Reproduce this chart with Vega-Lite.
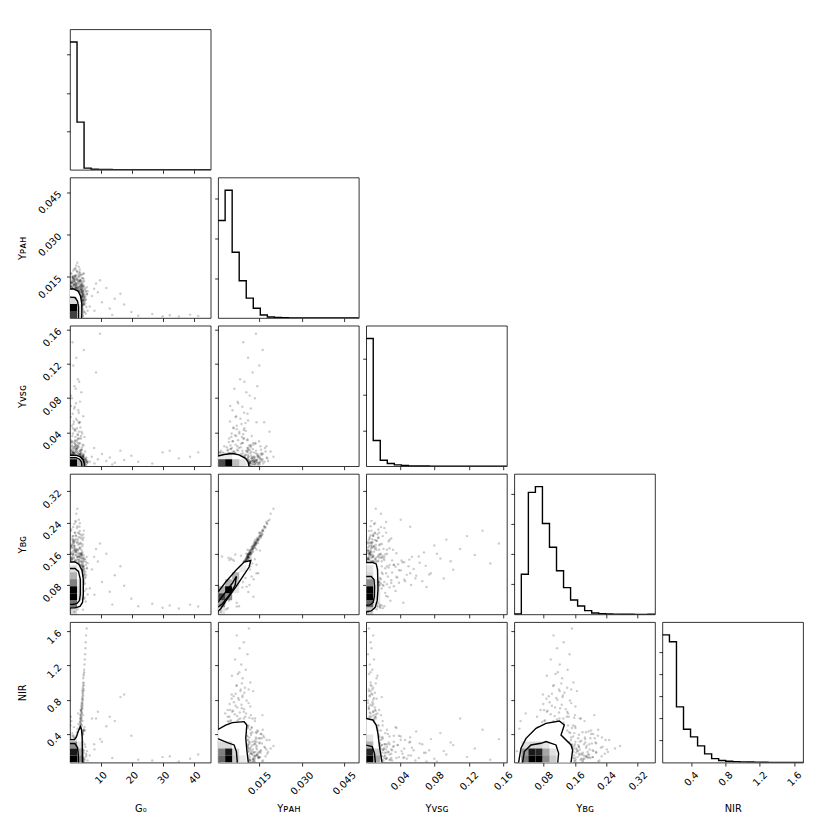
{
"$schema": "https://vega.github.io/schema/vega-lite/v6.json",
"padding": {"left": 17, "top": 28.3, "right": 5, "bottom": 5},
"background": "white",
"bounds": "flush",
"columns": 5,
"spacing": {"row": 7.2, "column": 7.1},
"resolve": {"scale": {"x": "independent", "y": "independent"}},
"config": {
  "font": "DejaVu Sans",
  "view": {"stroke": "#000", "strokeWidth": 0.8},
  "axis": {"grid": false, "domain": false, "tickColor": "#000", "tickWidth": 0.8, "tickSize": 3.5, "labelFontSize": 9.8, "labelColor": "#000", "labelAngle": -45, "labelAlign": "right", "labelBaseline": "middle", "labelPadding": 7, "labelFlush": false, "labelOverlap": false, "labelBound": false, "titleFontSize": 9.8, "titleFontWeight": "normal", "titleColor": "#000"},
  "axisX": {"titleY": 46, "titleBaseline": "middle", "titleAlign": "center"},
  "axisY": {"titleX": -47.5, "titleY": 70.25, "titleAngle": 270, "titleBaseline": "middle", "titleAlign": "center"}
},
"datasets": {
"H": [
{"h":"g","e":0.17,"c":3325},{"h":"g","e":2.42,"c":1242},{"h":"g","e":4.67,"c":44},{"h":"g","e":6.92,"c":13},{"h":"g","e":9.18,"c":8},{"h":"g","e":11.43,"c":6},{"h":"g","e":13.68,"c":4},{"h":"g","e":15.93,"c":5},{"h":"g","e":18.18,"c":3},{"h":"g","e":20.43,"c":2},{"h":"g","e":22.69,"c":1},{"h":"g","e":24.94,"c":1},{"h":"g","e":27.19,"c":1},{"h":"g","e":29.44,"c":2},{"h":"g","e":31.69,"c":2},{"h":"g","e":33.94,"c":1},{"h":"g","e":36.19,"c":1},{"h":"g","e":38.45,"c":1},{"h":"g","e":40.7,"c":2},{"h":"g","e":42.95,"c":1},{"h":"g","e":45.2,"c":1},
{"h":"p","e":0.0004,"c":1225},{"h":"p","e":0.00289,"c":1604},{"h":"p","e":0.00538,"c":825},{"h":"p","e":0.00787,"c":467},{"h":"p","e":0.01036,"c":249},{"h":"p","e":0.01285,"c":122},{"h":"p","e":0.01534,"c":38},{"h":"p","e":0.01783,"c":13},{"h":"p","e":0.02032,"c":6},{"h":"p","e":0.02281,"c":3},{"h":"p","e":0.0253,"c":2},{"h":"p","e":0.02779,"c":1},{"h":"p","e":0.03028,"c":1},{"h":"p","e":0.03277,"c":1},{"h":"p","e":0.03526,"c":0},{"h":"p","e":0.03775,"c":1},{"h":"p","e":0.04024,"c":0},{"h":"p","e":0.04273,"c":0},{"h":"p","e":0.04522,"c":1},{"h":"p","e":0.04771,"c":1},{"h":"p","e":0.0502,"c":1},
{"h":"v","e":0.0009,"c":3577},{"h":"v","e":0.00907,"c":720},{"h":"v","e":0.01724,"c":168},{"h":"v","e":0.02541,"c":76},{"h":"v","e":0.03358,"c":36},{"h":"v","e":0.04175,"c":20},{"h":"v","e":0.04992,"c":10},{"h":"v","e":0.05809,"c":6},{"h":"v","e":0.06626,"c":4},{"h":"v","e":0.07443,"c":3},{"h":"v","e":0.0826,"c":2},{"h":"v","e":0.09077,"c":2},{"h":"v","e":0.09894,"c":1},{"h":"v","e":0.10711,"c":1},{"h":"v","e":0.11528,"c":1},{"h":"v","e":0.12345,"c":1},{"h":"v","e":0.13162,"c":1},{"h":"v","e":0.13979,"c":0},{"h":"v","e":0.14796,"c":1},{"h":"v","e":0.15613,"c":1},{"h":"v","e":0.1643,"c":1},
{"h":"b","e":0.005,"c":3},{"h":"b","e":0.02295,"c":333},{"h":"b","e":0.0409,"c":1011},{"h":"b","e":0.05885,"c":1058},{"h":"b","e":0.0768,"c":753},{"h":"b","e":0.09475,"c":556},{"h":"b","e":0.1127,"c":361},{"h":"b","e":0.13065,"c":222},{"h":"b","e":0.1486,"c":119},{"h":"b","e":0.16655,"c":69},{"h":"b","e":0.1845,"c":31},{"h":"b","e":0.20245,"c":11},{"h":"b","e":0.2204,"c":6},{"h":"b","e":0.23835,"c":3},{"h":"b","e":0.2563,"c":2},{"h":"b","e":0.27425,"c":1},{"h":"b","e":0.2922,"c":1},{"h":"b","e":0.31015,"c":0},{"h":"b","e":0.3281,"c":0},{"h":"b","e":0.34605,"c":1},{"h":"b","e":0.364,"c":1},
{"h":"n","e":0.066,"c":1451},{"h":"n","e":0.148,"c":1372},{"h":"n","e":0.2299,"c":633},{"h":"n","e":0.3119,"c":378},{"h":"n","e":0.3938,"c":292},{"h":"n","e":0.4758,"c":190},{"h":"n","e":0.5577,"c":99},{"h":"n","e":0.6397,"c":45},{"h":"n","e":0.7216,"c":23},{"h":"n","e":0.8036,"c":15},{"h":"n","e":0.8855,"c":11},{"h":"n","e":0.9675,"c":8},{"h":"n","e":1.0494,"c":6},{"h":"n","e":1.1314,"c":5},{"h":"n","e":1.2133,"c":4},{"h":"n","e":1.2953,"c":3},{"h":"n","e":1.3772,"c":2},{"h":"n","e":1.4592,"c":1},{"h":"n","e":1.5411,"c":1},{"h":"n","e":1.6231,"c":1},{"h":"n","e":1.705,"c":1}
],
"S": [
{"g":1.2,"p":0.0112,"v":0.004,"b":0.158,"n":0.15},{"g":2.1,"p":0.0118,"v":0.007,"b":0.165,"n":0.22},{"g":0.8,"p":0.0105,"v":0.003,"b":0.148,"n":0.12},{"g":3.1,"p":0.0125,"v":0.011,"b":0.172,"n":0.31},{"g":1.7,"p":0.0131,"v":0.006,"b":0.18,"n":0.18},
{"g":2.6,"p":0.0109,"v":0.019,"b":0.151,"n":0.27},{"g":0.5,"p":0.0115,"v":0.002,"b":0.162,"n":0.1},{"g":3.6,"p":0.0138,"v":0.008,"b":0.188,"n":0.42},{"g":1.4,"p":0.0142,"v":0.013,"b":0.193,"n":0.16},{"g":2.3,"p":0.0121,"v":0.025,"b":0.17,"n":0.25},
{"g":3.9,"p":0.0147,"v":0.005,"b":0.199,"n":0.35},{"g":1.0,"p":0.0153,"v":0.009,"b":0.205,"n":0.13},{"g":2.8,"p":0.0159,"v":0.016,"b":0.214,"n":0.29},{"g":1.9,"p":0.0108,"v":0.031,"b":0.143,"n":0.21},{"g":3.3,"p":0.0164,"v":0.004,"b":0.218,"n":0.38},
{"g":0.9,"p":0.0127,"v":0.012,"b":0.176,"n":0.11},{"g":2.4,"p":0.017,"v":0.022,"b":0.226,"n":0.24},{"g":4.2,"p":0.0134,"v":0.007,"b":0.184,"n":0.55},{"g":1.5,"p":0.0178,"v":0.01,"b":0.236,"n":0.17},{"g":3.0,"p":0.0186,"v":0.041,"b":0.247,"n":0.33},
{"g":2.0,"p":0.0113,"v":0.003,"b":0.168,"n":0.2},{"g":0.6,"p":0.0119,"v":0.006,"b":0.15,"n":0.09},{"g":3.5,"p":0.0102,"v":0.014,"b":0.14,"n":0.44},{"g":1.3,"p":0.0145,"v":0.002,"b":0.187,"n":0.14},{"g":2.7,"p":0.0136,"v":0.028,"b":0.196,"n":0.28},
{"g":4.4,"p":0.0161,"v":0.009,"b":0.209,"n":0.62},{"g":1.1,"p":0.0104,"v":0.005,"b":0.16,"n":0.12},{"g":2.2,"p":0.019,"v":0.018,"b":0.262,"n":0.23},{"g":3.7,"p":0.0123,"v":0.036,"b":0.161,"n":0.47},{"g":1.8,"p":0.015,"v":0.011,"b":0.214,"n":0.19},
{"g":2.9,"p":0.0116,"v":0.004,"b":0.145,"n":0.3},{"g":0.4,"p":0.0129,"v":0.008,"b":0.179,"n":0.08},{"g":3.2,"p":0.0167,"v":0.052,"b":0.229,"n":0.36},{"g":1.6,"p":0.014,"v":0.006,"b":0.171,"n":0.15},{"g":2.5,"p":0.02,"v":0.012,"b":0.275,"n":0.26},
{"g":4.0,"p":0.0111,"v":0.02,"b":0.155,"n":0.5},{"g":1.2,"p":0.0132,"v":0.003,"b":0.19,"n":0.13},{"g":3.4,"p":0.0155,"v":0.015,"b":0.201,"n":0.4},{"g":2.0,"p":0.0175,"v":0.024,"b":0.241,"n":0.22},{"g":0.7,"p":0.0107,"v":0.01,"b":0.138,"n":0.1},
{"g":3.5,"p":0.0062,"v":0.004,"b":0.096,"n":0.48},{"g":3.7,"p":0.0081,"v":0.007,"b":0.118,"n":0.52},{"g":3.5,"p":0.0048,"v":0.003,"b":0.082,"n":0.55},{"g":3.8,"p":0.0095,"v":0.01,"b":0.13,"n":0.58},{"g":3.6,"p":0.0071,"v":0.005,"b":0.108,"n":0.61},
{"g":3.9,"p":0.0103,"v":0.006,"b":0.142,"n":0.64},{"g":3.7,"p":0.0057,"v":0.012,"b":0.09,"n":0.67},{"g":4.0,"p":0.0088,"v":0.004,"b":0.122,"n":0.7},{"g":3.8,"p":0.0066,"v":0.008,"b":0.101,"n":0.73},{"g":4.1,"p":0.0112,"v":0.003,"b":0.15,"n":0.76},
{"g":4.0,"p":0.0078,"v":0.009,"b":0.115,"n":0.8},{"g":4.2,"p":0.0059,"v":0.005,"b":0.093,"n":0.84},{"g":4.3,"p":0.0097,"v":0.011,"b":0.133,"n":0.88},{"g":4.2,"p":0.0084,"v":0.004,"b":0.119,"n":0.92},{"g":4.4,"p":0.0069,"v":0.007,"b":0.104,"n":0.96},
{"g":4.5,"p":0.0118,"v":0.006,"b":0.156,"n":1.0},{"g":4.4,"p":0.0091,"v":0.013,"b":0.127,"n":1.05},{"g":4.6,"p":0.0074,"v":0.004,"b":0.11,"n":1.1},{"g":4.7,"p":0.0102,"v":0.008,"b":0.141,"n":1.15},{"g":4.8,"p":0.0086,"v":0.005,"b":0.121,"n":1.21},
{"g":4.9,"p":0.0064,"v":0.01,"b":0.098,"n":1.27},{"g":5.0,"p":0.0108,"v":0.003,"b":0.146,"n":1.33},{"g":5.1,"p":0.008,"v":0.007,"b":0.114,"n":1.4},{"g":5.2,"p":0.0095,"v":0.006,"b":0.131,"n":1.47},{"g":5.3,"p":0.007,"v":0.009,"b":0.105,"n":1.55},
{"g":5.5,"p":0.0113,"v":0.004,"b":0.152,"n":1.63},{"g":5.6,"p":0.0089,"v":0.006,"b":0.124,"n":1.72},{"g":5.8,"p":0.0099,"v":0.005,"b":0.136,"n":1.8},{"g":3.3,"p":0.0052,"v":0.015,"b":0.086,"n":0.5},{"g":3.5,"p":0.012,"v":0.018,"b":0.16,"n":0.62},
{"g":3.9,"p":0.0045,"v":0.009,"b":0.079,"n":0.75},{"g":4.1,"p":0.0128,"v":0.006,"b":0.165,"n":0.9},{"g":4.5,"p":0.0053,"v":0.014,"b":0.088,"n":1.08},{"g":3.4,"p":0.0135,"v":0.003,"b":0.175,"n":0.58},{"g":3.6,"p":0.0038,"v":0.011,"b":0.072,"n":0.68},
{"g":1.1,"p":0.0061,"v":0.018,"b":0.095,"n":0.14},{"g":2.3,"p":0.0048,"v":0.021,"b":0.078,"n":0.22},{"g":0.6,"p":0.0072,"v":0.024,"b":0.11,"n":0.11},{"g":3.2,"p":0.0085,"v":0.027,"b":0.125,"n":0.3},{"g":1.7,"p":0.0055,"v":0.03,"b":0.085,"n":0.17},
{"g":2.8,"p":0.0093,"v":0.033,"b":0.132,"n":0.26},{"g":0.9,"p":0.0068,"v":0.036,"b":0.101,"n":0.12},{"g":4.1,"p":0.0079,"v":0.039,"b":0.118,"n":0.38},{"g":1.9,"p":0.0102,"v":0.042,"b":0.143,"n":0.2},{"g":3.5,"p":0.0058,"v":0.046,"b":0.09,"n":0.33},
{"g":1.3,"p":0.0087,"v":0.05,"b":0.128,"n":0.15},{"g":2.5,"p":0.011,"v":0.054,"b":0.152,"n":0.24},{"g":0.4,"p":0.0066,"v":0.058,"b":0.097,"n":0.09},{"g":3.0,"p":0.0096,"v":0.063,"b":0.137,"n":0.29},{"g":1.5,"p":0.012,"v":0.068,"b":0.163,"n":0.18},
{"g":2.1,"p":0.0075,"v":0.074,"b":0.107,"n":0.21},{"g":0.8,"p":0.0134,"v":0.08,"b":0.181,"n":0.11},{"g":3.8,"p":0.0104,"v":0.087,"b":0.148,"n":0.41},{"g":1.6,"p":0.0143,"v":0.094,"b":0.196,"n":0.16},{"g":2.7,"p":0.0082,"v":0.102,"b":0.119,"n":0.27},
{"g":8.5,"p":0.0126,"v":0.11,"b":0.172,"n":0.58},{"g":1.2,"p":0.015,"v":0.118,"b":0.205,"n":0.13},{"g":2.2,"p":0.011,"v":0.127,"b":0.157,"n":0.23},{"g":4.6,"p":0.0162,"v":0.136,"b":0.219,"n":0.45},{"g":1.0,"p":0.0093,"v":0.145,"b":0.135,"n":0.1},
{"g":9.8,"p":0.0138,"v":0.155,"b":0.186,"n":0.34},{"g":3.9,"p":0.0115,"v":0.02,"b":0.08,"n":0.36},{"g":1.4,"p":0.0035,"v":0.023,"b":0.06,"n":0.15},{"g":2.0,"p":0.0129,"v":0.026,"b":0.05,"n":0.19},{"g":0.7,"p":0.0042,"v":0.029,"b":0.04,"n":0.1},
{"g":2.6,"p":0.0108,"v":0.032,"b":0.17,"n":0.25},{"g":4.8,"p":0.0051,"v":0.035,"b":0.065,"n":0.48},{"g":1.8,"p":0.007,"v":0.044,"b":0.035,"n":0.12},{"g":3.3,"p":0.014,"v":0.052,"b":0.11,"n":0.31},{"g":0.5,"p":0.0047,"v":0.071,"b":0.075,"n":0.08},
{"g":6.5,"p":0.0045,"v":0.006,"b":0.072,"n":0.15},{"g":7.2,"p":0.0082,"v":0.012,"b":0.12,"n":0.58},{"g":8.0,"p":0.003,"v":0.004,"b":0.055,"n":0.22},{"g":9.1,"p":0.0095,"v":0.009,"b":0.14,"n":0.66},{"g":10.4,"p":0.006,"v":0.015,"b":0.088,"n":0.31},
{"g":11.8,"p":0.011,"v":0.007,"b":0.16,"n":0.49},{"g":12.9,"p":0.0038,"v":0.011,"b":0.063,"n":0.6},{"g":14.5,"p":0.0072,"v":0.005,"b":0.105,"n":0.55},{"g":16.3,"p":0.009,"v":0.019,"b":0.128,"n":0.83},{"g":17.5,"p":0.0052,"v":0.008,"b":0.078,"n":0.86},
{"g":19.8,"p":0.0025,"v":0.013,"b":0.045,"n":0.38},{"g":13.7,"p":0.0015,"v":0.003,"b":0.03,"n":0.12},{"g":22.0,"p":0.0012,"v":0.006,"b":0.026,"n":0.1},{"g":26.5,"p":0.0018,"v":0.004,"b":0.032,"n":0.09},{"g":29.8,"p":0.001,"v":0.017,"b":0.022,"n":0.13},
{"g":32.1,"p":0.0014,"v":0.019,"b":0.028,"n":0.14},{"g":35.0,"p":0.0009,"v":0.01,"b":0.02,"n":0.08},{"g":38.6,"p":0.0016,"v":0.012,"b":0.03,"n":0.11},{"g":41.2,"p":0.0011,"v":0.017,"b":0.025,"n":0.16},{"g":7.9,"p":0.0108,"v":0.022,"b":0.152,"n":0.28},
{"g":4.2,"p":0.0035,"v":0.004,"b":0.06,"n":0.12},{"g":4.5,"p":0.0052,"v":0.006,"b":0.082,"n":0.18},{"g":4.8,"p":0.0024,"v":0.003,"b":0.048,"n":0.1},{"g":5.1,"p":0.0068,"v":0.009,"b":0.1,"n":0.25},{"g":4.3,"p":0.0081,"v":0.005,"b":0.115,"n":0.31},
{"g":5.4,"p":0.0043,"v":0.011,"b":0.07,"n":0.15},{"g":4.6,"p":0.0059,"v":0.002,"b":0.092,"n":0.21},{"g":5.8,"p":0.003,"v":0.007,"b":0.056,"n":0.09},{"g":4.1,"p":0.0096,"v":0.012,"b":0.128,"n":0.34},{"g":4.9,"p":0.0076,"v":0.004,"b":0.108,"n":0.28},
{"g":5.2,"p":0.0019,"v":0.008,"b":0.038,"n":0.13},{"g":4.4,"p":0.0063,"v":0.013,"b":0.09,"n":0.4},{"g":4.0,"p":0.0047,"v":0.01,"b":0.068,"n":0.16},{"g":5.6,"p":0.0088,"v":0.006,"b":0.122,"n":0.2},{"g":4.7,"p":0.0027,"v":0.003,"b":0.045,"n":0.11},
{"g":3.9,"p":0.0105,"v":0.005,"b":0.076,"n":0.38},{"g":1.5,"p":0.0041,"v":0.016,"b":0.15,"n":0.36},{"g":2.4,"p":0.0055,"v":0.002,"b":0.145,"n":0.42},{"g":0.8,"p":0.007,"v":0.014,"b":0.025,"n":0.08},{"g":1.9,"p":0.0021,"v":0.017,"b":0.03,"n":0.29},
{"g":3.0,"p":0.0085,"v":0.015,"b":0.155,"n":0.12},{"g":2.6,"p":0.0033,"v":0.013,"b":0.018,"n":0.46},{"g":1.1,"p":0.0092,"v":0.016,"b":0.088,"n":0.38},{"g":3.4,"p":0.0117,"v":0.001,"b":0.12,"n":0.1},{"g":0.3,"p":0.006,"v":0.015,"b":0.142,"n":0.5},
{"g":2.2,"p":0.0125,"v":0.008,"b":0.135,"n":0.07},{"g":1.6,"p":0.0014,"v":0.003,"b":0.012,"n":0.2},{"g":2.9,"p":0.0101,"v":0.002,"b":0.098,"n":0.52},{"g":0.5,"p":0.0075,"v":0.019,"b":0.112,"n":0.27},{"g":3.6,"p":0.013,"v":0.006,"b":0.095,"n":0.15},
{"g":1.3,"p":0.0049,"v":0.021,"b":0.148,"n":0.09},{"g":2.0,"p":0.0111,"v":0.012,"b":0.062,"n":0.33},{"g":4.3,"p":0.0012,"v":0.005,"b":0.017,"n":0.07},{"g":0.9,"p":0.014,"v":0.004,"b":0.132,"n":0.41},{"g":2.7,"p":0.0026,"v":0.024,"b":0.052,"n":0.11},
{"g":3.8,"p":0.0065,"v":0.016,"b":0.158,"n":0.09},{"g":1.7,"p":0.0152,"v":0.003,"b":0.168,"n":0.35},{"g":0.6,"p":0.0038,"v":0.02,"b":0.021,"n":0.55},{"g":2.3,"p":0.0146,"v":0.013,"b":0.11,"n":0.18},{"g":5.0,"p":0.0056,"v":0.018,"b":0.084,"n":0.44},
{"g":3.1,"p":0.0018,"v":0.009,"b":0.153,"n":0.24},{"g":1.4,"p":0.0123,"v":0.001,"b":0.102,"n":0.48},{"g":2.5,"p":0.0078,"v":0.022,"b":0.026,"n":0.14},{"g":4.7,"p":0.0134,"v":0.011,"b":0.146,"n":0.08},{"g":0.4,"p":0.0044,"v":0.012,"b":0.144,"n":0.6},
{"g":3.3,"p":0.009,"v":0.028,"b":0.074,"n":0.37},{"g":1.0,"p":0.0108,"v":0.017,"b":0.158,"n":0.26},{"g":5.3,"p":0.0101,"v":0.002,"b":0.139,"n":0.17},{"g":2.8,"p":0.0029,"v":0.014,"b":0.034,"n":0.64},{"g":4.5,"p":0.0118,"v":0.025,"b":0.128,"n":0.45},
{"g":1.3,"p":0.0092,"v":0.006,"b":0.128,"n":0.16},{"g":2.5,"p":0.0098,"v":0.012,"b":0.139,"n":0.24},{"g":0.7,"p":0.0101,"v":0.004,"b":0.146,"n":0.11},{"g":3.4,"p":0.0106,"v":0.018,"b":0.15,"n":0.33},{"g":1.9,"p":0.011,"v":0.009,"b":0.156,"n":0.19},
{"g":2.8,"p":0.0114,"v":0.025,"b":0.16,"n":0.28},{"g":1.0,"p":0.0117,"v":0.005,"b":0.166,"n":0.13},{"g":3.8,"p":0.0121,"v":0.013,"b":0.17,"n":0.39},{"g":1.6,"p":0.0124,"v":0.007,"b":0.175,"n":0.17},{"g":2.2,"p":0.0127,"v":0.021,"b":0.172,"n":0.22},
{"g":0.5,"p":0.0131,"v":0.01,"b":0.18,"n":0.09},{"g":3.1,"p":0.0134,"v":0.004,"b":0.186,"n":0.3},{"g":1.4,"p":0.0137,"v":0.016,"b":0.182,"n":0.15},{"g":2.6,"p":0.0141,"v":0.008,"b":0.19,"n":0.26},{"g":4.3,"p":0.0145,"v":0.011,"b":0.195,"n":0.43},
{"g":0.9,"p":0.0149,"v":0.03,"b":0.199,"n":0.12},{"g":2.0,"p":0.0153,"v":0.006,"b":0.207,"n":0.2},{"g":3.5,"p":0.0158,"v":0.014,"b":0.21,"n":0.35},{"g":1.2,"p":0.0094,"v":0.009,"b":0.125,"n":0.14},{"g":2.9,"p":0.0099,"v":0.003,"b":0.135,"n":0.29},
{"g":1.7,"p":0.0103,"v":0.019,"b":0.141,"n":0.18},{"g":3.6,"p":0.0108,"v":0.007,"b":0.155,"n":0.37},{"g":0.6,"p":0.0112,"v":0.012,"b":0.149,"n":0.1},{"g":2.3,"p":0.0116,"v":0.005,"b":0.163,"n":0.23},{"g":4.0,"p":0.0119,"v":0.023,"b":0.158,"n":0.41},
{"g":1.5,"p":0.0123,"v":0.01,"b":0.178,"n":0.16},{"g":2.7,"p":0.0126,"v":0.003,"b":0.168,"n":0.27},{"g":0.8,"p":0.0129,"v":0.017,"b":0.184,"n":0.11},{"g":3.3,"p":0.0133,"v":0.008,"b":0.176,"n":0.32},{"g":1.8,"p":0.0136,"v":0.027,"b":0.192,"n":0.19},
{"g":2.4,"p":0.0139,"v":0.006,"b":0.188,"n":0.24},{"g":4.5,"p":0.0143,"v":0.015,"b":0.201,"n":0.44},{"g":1.1,"p":0.0147,"v":0.004,"b":0.196,"n":0.13},{"g":3.0,"p":0.0151,"v":0.011,"b":0.212,"n":0.3},{"g":2.1,"p":0.0156,"v":0.02,"b":0.205,"n":0.21},
{"g":0.4,"p":0.016,"v":0.007,"b":0.219,"n":0.08},{"g":3.7,"p":0.0096,"v":0.033,"b":0.131,"n":0.38},{"g":1.3,"p":0.01,"v":0.014,"b":0.12,"n":0.15},{"g":2.6,"p":0.0105,"v":0.009,"b":0.152,"n":0.26},{"g":0.9,"p":0.0109,"v":0.022,"b":0.144,"n":0.12},
{"g":3.2,"p":0.0113,"v":0.005,"b":0.161,"n":0.31},{"g":1.6,"p":0.0118,"v":0.016,"b":0.17,"n":0.17},{"g":2.0,"p":0.0122,"v":0.01,"b":0.165,"n":0.2},{"g":4.1,"p":0.0125,"v":0.004,"b":0.179,"n":0.42},{"g":0.7,"p":0.0128,"v":0.028,"b":0.174,"n":0.1},
{"g":2.8,"p":0.0132,"v":0.012,"b":0.183,"n":0.28},{"g":1.4,"p":0.0135,"v":0.006,"b":0.189,"n":0.14},{"g":3.5,"p":0.0138,"v":0.019,"b":0.185,"n":0.36},{"g":2.2,"p":0.0142,"v":0.008,"b":0.197,"n":0.22},{"g":1.0,"p":0.0146,"v":0.013,"b":0.193,"n":0.12},
{"g":2.9,"p":0.015,"v":0.005,"b":0.203,"n":0.29},{"g":1.7,"p":0.0154,"v":0.024,"b":0.214,"n":0.18},{"g":3.9,"p":0.0157,"v":0.009,"b":0.206,"n":0.4},{"g":0.6,"p":0.0163,"v":0.015,"b":0.222,"n":0.09},{"g":2.5,"p":0.0168,"v":0.006,"b":0.23,"n":0.25},
{"g":1.2,"p":0.0172,"v":0.018,"b":0.228,"n":0.14},{"g":3.3,"p":0.0176,"v":0.011,"b":0.238,"n":0.33},{"g":1.9,"p":0.0181,"v":0.007,"b":0.244,"n":0.19},{"g":2.6,"p":0.0093,"v":0.038,"b":0.133,"n":0.27},{"g":1.1,"p":0.0097,"v":0.045,"b":0.138,"n":0.13},
{"g":3.6,"p":0.0058,"v":0.005,"b":0.091,"n":0.46},{"g":3.4,"p":0.0085,"v":0.008,"b":0.124,"n":0.49},{"g":3.7,"p":0.0067,"v":0.003,"b":0.102,"n":0.51},{"g":3.5,"p":0.0092,"v":0.006,"b":0.131,"n":0.53},{"g":3.8,"p":0.0049,"v":0.01,"b":0.083,"n":0.56},
{"g":3.6,"p":0.0076,"v":0.004,"b":0.114,"n":0.57},{"g":3.9,"p":0.01,"v":0.007,"b":0.139,"n":0.6},{"g":3.7,"p":0.0063,"v":0.012,"b":0.098,"n":0.63},{"g":4.0,"p":0.0081,"v":0.005,"b":0.119,"n":0.65},{"g":3.8,"p":0.0054,"v":0.009,"b":0.088,"n":0.66},
{"g":4.1,"p":0.0096,"v":0.004,"b":0.136,"n":0.69},{"g":3.9,"p":0.0072,"v":0.011,"b":0.109,"n":0.71},{"g":4.2,"p":0.0087,"v":0.006,"b":0.126,"n":0.74},{"g":4.0,"p":0.006,"v":0.008,"b":0.095,"n":0.77},{"g":4.3,"p":0.0105,"v":0.003,"b":0.147,"n":0.79},
{"g":4.1,"p":0.0075,"v":0.01,"b":0.112,"n":0.82},{"g":4.4,"p":0.0091,"v":0.005,"b":0.129,"n":0.85},{"g":4.2,"p":0.0066,"v":0.007,"b":0.101,"n":0.87},{"g":4.5,"p":0.0083,"v":0.004,"b":0.121,"n":0.9},{"g":4.3,"p":0.0099,"v":0.009,"b":0.14,"n":0.94},
{"g":4.6,"p":0.007,"v":0.006,"b":0.106,"n":0.97},{"g":4.4,"p":0.0088,"v":0.012,"b":0.125,"n":0.99},{"g":3.3,"p":0.011,"v":0.014,"b":0.152,"n":0.47},{"g":3.4,"p":0.0042,"v":0.007,"b":0.076,"n":0.54},{"g":3.6,"p":0.0115,"v":0.005,"b":0.158,"n":0.59},
{"g":3.7,"p":0.0047,"v":0.016,"b":0.081,"n":0.68},{"g":4.1,"p":0.0118,"v":0.004,"b":0.161,"n":0.72},{"g":4.3,"p":0.0052,"v":0.013,"b":0.087,"n":0.81},{"g":4.6,"p":0.0112,"v":0.008,"b":0.15,"n":0.92},{"g":4.7,"p":0.0079,"v":0.006,"b":0.116,"n":1.12},
{"g":1.2,"p":0.0045,"v":0.016,"b":0.079,"n":0.13},{"g":2.6,"p":0.0062,"v":0.017,"b":0.098,"n":0.25},{"g":0.6,"p":0.0038,"v":0.019,"b":0.071,"n":0.1},{"g":3.5,"p":0.0071,"v":0.02,"b":0.108,"n":0.34},{"g":1.8,"p":0.0053,"v":0.022,"b":0.088,"n":0.18},
{"g":2.9,"p":0.0084,"v":0.023,"b":0.123,"n":0.28},{"g":0.9,"p":0.0048,"v":0.025,"b":0.082,"n":0.12},{"g":4.2,"p":0.0066,"v":0.026,"b":0.102,"n":0.4},{"g":1.5,"p":0.0091,"v":0.028,"b":0.131,"n":0.16},{"g":2.3,"p":0.0057,"v":0.03,"b":0.092,"n":0.22},
{"g":0.4,"p":0.0075,"v":0.031,"b":0.112,"n":0.09},{"g":3.2,"p":0.0043,"v":0.033,"b":0.077,"n":0.31},{"g":1.9,"p":0.0088,"v":0.035,"b":0.127,"n":0.19},{"g":2.7,"p":0.0064,"v":0.037,"b":0.099,"n":0.27},{"g":1.1,"p":0.0052,"v":0.039,"b":0.086,"n":0.13},
{"g":3.8,"p":0.0079,"v":0.041,"b":0.118,"n":0.37},{"g":1.6,"p":0.0095,"v":0.043,"b":0.138,"n":0.17},{"g":2.4,"p":0.0059,"v":0.045,"b":0.094,"n":0.23},{"g":0.8,"p":0.007,"v":0.048,"b":0.106,"n":0.11},{"g":3.0,"p":0.0101,"v":0.051,"b":0.145,"n":0.3},
{"g":1.4,"p":0.0046,"v":0.053,"b":0.08,"n":0.15},{"g":2.1,"p":0.0083,"v":0.056,"b":0.121,"n":0.21},{"g":4.4,"p":0.0068,"v":0.059,"b":0.104,"n":0.43},{"g":1.0,"p":0.0108,"v":0.062,"b":0.153,"n":0.12},{"g":2.8,"p":0.0055,"v":0.066,"b":0.09,"n":0.28},
{"g":1.7,"p":0.009,"v":0.07,"b":0.129,"n":0.18},{"g":3.4,"p":0.0073,"v":0.076,"b":0.11,"n":0.34},{"g":0.5,"p":0.0116,"v":0.083,"b":0.16,"n":0.08},{"g":2.0,"p":0.0062,"v":0.091,"b":0.097,"n":0.2},{"g":3.1,"p":0.0097,"v":0.099,"b":0.141,"n":0.3}
],
"F": [
{"pan":"gp","x":-0.15,"y":0.01067,"y2":0},{"pan":"gp","x":1.45,"y":0.01067,"y2":0},{"pan":"gp","x":2.73,"y":0.00996,"y2":0},{"pan":"gp","x":3.53,"y":0.00819,"y2":0},{"pan":"gp","x":3.95,"y":0.00536,"y2":0},{"pan":"gp","x":3.96,"y":0.00217,"y2":0},
{"pan":"gv","x":-0.15,"y":0.01367,"y2":-0.0003},{"pan":"gv","x":2.09,"y":0.01367,"y2":-0.0003},{"pan":"gv","x":3.37,"y":0.01193,"y2":-0.0003},{"pan":"gv","x":4.33,"y":0.00845,"y2":-0.0003},{"pan":"gv","x":4.71,"y":0.00438,"y2":-0.0003},{"pan":"gv","x":4.81,"y":0,"y2":-0.0003},
{"pan":"gb","x":-0.15,"y":0.139,"y2":0.0216},{"pan":"gb","x":1.77,"y":0.139,"y2":0.0216},{"pan":"gb","x":3.05,"y":0.1326,"y2":0.024},{"pan":"gb","x":3.37,"y":0.129,"y2":0.0254},{"pan":"gb","x":4.01,"y":0.1173,"y2":0.0325},{"pan":"gb","x":4.17,"y":0.11,"y2":0.0356},{"pan":"gb","x":4.43,"y":0.0943,"y2":0.056},
{"pan":"gn","x":-0.15,"y":0.334,"y2":0.05},{"pan":"gn","x":1.61,"y":0.334,"y2":0.05},{"pan":"gn","x":2.25,"y":0.369,"y2":0.05},{"pan":"gn","x":2.89,"y":0.439,"y2":0.05},{"pan":"gn","x":3.53,"y":0.485,"y2":0.05},{"pan":"gn","x":3.85,"y":0.45,"y2":0.05},{"pan":"gn","x":4.07,"y":0.357,"y2":0.05},{"pan":"gn","x":4.11,"y":0.183,"y2":0.05},{"pan":"gn","x":4.14,"y":0.06,"y2":0.05},
{"pan":"pv","x":0.00005,"y":0.0125,"y2":-0.0003},{"pan":"pv","x":0.00252,"y":0.0145,"y2":-0.0003},{"pan":"pv","x":0.00546,"y":0.0156,"y2":-0.0003},{"pan":"pv","x":0.00783,"y":0.014,"y2":-0.0003},{"pan":"pv","x":0.0102,"y":0.00984,"y2":-0.0003},{"pan":"pv","x":0.011,"y":0.0059,"y2":-0.0003},{"pan":"pv","x":0.01137,"y":0,"y2":-0.0003},
{"pan":"pb","x":-0.0001,"y":0.06,"y2":0.012},{"pan":"pb","x":0.0004,"y":0.0622,"y2":0.0137},{"pan":"pb","x":0.00132,"y":0.0709,"y2":0.0195},{"pan":"pb","x":0.00309,"y":0.0877,"y2":0.0386},{"pan":"pb","x":0.00369,"y":0.0927,"y2":0.0451},{"pan":"pb","x":0.00663,"y":0.1173,"y2":0.0749},{"pan":"pb","x":0.009,"y":0.1344,"y2":0.1004},{"pan":"pb","x":0.0096,"y":0.1387,"y2":0.1069},{"pan":"pb","x":0.01137,"y":0.1417,"y2":0.126},{"pan":"pb","x":0.01198,"y":0.1428,"y2":0.1428},
{"pan":"vb","x":-0.00026,"y":0.1377,"y2":0.0114},{"pan":"vb","x":0.00671,"y":0.1377,"y2":0.0139},{"pan":"vb","x":0.00787,"y":0.1377,"y2":0.0155},{"pan":"vb","x":0.01135,"y":0.1358,"y2":0.0229},{"pan":"vb","x":0.01251,"y":0.1339,"y2":0.03},{"pan":"vb","x":0.01367,"y":0.125,"y2":0.0407},{"pan":"vb","x":0.01402,"y":0.1198,"y2":0.05},{"pan":"vb","x":0.0146,"y":0.1,"y2":0.0688},
{"pan":"pn","x":0.00005,"y":0.446,"y2":0.05},{"pan":"pn","x":0.00309,"y":0.504,"y2":0.05},{"pan":"pn","x":0.00546,"y":0.532,"y2":0.05},{"pan":"pn","x":0.0096,"y":0.544,"y2":0.05},{"pan":"pn","x":0.0104,"y":0.504,"y2":0.05},{"pan":"pn","x":0.0106,"y":0.35,"y2":0.05},{"pan":"pn","x":0.0108,"y":0.213,"y2":0.05},{"pan":"pn","x":0.0112,"y":0.06,"y2":0.05},
{"pan":"vn","x":-0.00026,"y":0.582,"y2":0.05},{"pan":"vn","x":0.00868,"y":0.563,"y2":0.05},{"pan":"vn","x":0.01251,"y":0.504,"y2":0.05},{"pan":"vn","x":0.01448,"y":0.407,"y2":0.05},{"pan":"vn","x":0.01634,"y":0.252,"y2":0.05},{"pan":"vn","x":0.01948,"y":0.06,"y2":0.05},
{"pan":"bn","x":0.0155,"y":0.06,"y2":0.05},{"pan":"bn","x":0.0221,"y":0.233,"y2":0.05},{"pan":"bn","x":0.0349,"y":0.349,"y2":0.05},{"pan":"bn","x":0.0604,"y":0.466,"y2":0.05},{"pan":"bn","x":0.0859,"y":0.524,"y2":0.05},{"pan":"bn","x":0.1198,"y":0.552,"y2":0.05},{"pan":"bn","x":0.1326,"y":0.504,"y2":0.05},{"pan":"bn","x":0.136,"y":0.36,"y2":0.05},{"pan":"bn","x":0.1497,"y":0.272,"y2":0.05},{"pan":"bn","x":0.1538,"y":0.213,"y2":0.05},{"pan":"bn","x":0.154,"y":0.06,"y2":0.05}
],
"D": [
{"pan":"gp","x":0.17,"x2":2.42,"y":0.0004,"y2":0.00289,"d":0.75},{"pan":"gp","x":0.17,"x2":2.42,"y":0.00289,"y2":0.00538,"d":1},{"pan":"gp","x":0.17,"x2":2.42,"y":0.00538,"y2":0.00787,"d":0.15},{"pan":"gp","x":2.42,"x2":4.67,"y":0.0004,"y2":0.00289,"d":0.12},{"pan":"gp","x":2.42,"x2":4.67,"y":0.00289,"y2":0.00538,"d":0.1},
{"pan":"gv","x":0.17,"x2":2.42,"y":0.0009,"y2":0.00907,"d":1},{"pan":"gv","x":2.42,"x2":4.67,"y":0.0009,"y2":0.00907,"d":0.3},{"pan":"gv","x":0.17,"x2":2.42,"y":0.00907,"y2":0.01724,"d":0.1},
{"pan":"gb","x":0.17,"x2":2.42,"y":0.005,"y2":0.02295,"d":0.15},{"pan":"gb","x":0.17,"x2":2.42,"y":0.02295,"y2":0.0409,"d":0.55},{"pan":"gb","x":0.17,"x2":2.42,"y":0.0409,"y2":0.05885,"d":1},{"pan":"gb","x":0.17,"x2":2.42,"y":0.05885,"y2":0.0768,"d":1},{"pan":"gb","x":0.17,"x2":2.42,"y":0.0768,"y2":0.09475,"d":0.5},{"pan":"gb","x":0.17,"x2":2.42,"y":0.09475,"y2":0.1127,"d":0.3},{"pan":"gb","x":0.17,"x2":2.42,"y":0.1127,"y2":0.13065,"d":0.12},{"pan":"gb","x":2.42,"x2":4.67,"y":0.0409,"y2":0.05885,"d":0.12},{"pan":"gb","x":2.42,"x2":4.67,"y":0.05885,"y2":0.0768,"d":0.12},{"pan":"gb","x":2.42,"x2":4.67,"y":0.0768,"y2":0.09475,"d":0.08},
{"pan":"gn","x":0.17,"x2":2.42,"y":0.066,"y2":0.148,"d":1},{"pan":"gn","x":0.17,"x2":2.42,"y":0.148,"y2":0.2299,"d":0.9},{"pan":"gn","x":0.17,"x2":2.42,"y":0.2299,"y2":0.3119,"d":0.45},{"pan":"gn","x":0.17,"x2":2.42,"y":0.3119,"y2":0.3938,"d":0.12},{"pan":"gn","x":2.42,"x2":4.67,"y":0.066,"y2":0.148,"d":0.45},{"pan":"gn","x":2.42,"x2":4.67,"y":0.148,"y2":0.2299,"d":0.3},{"pan":"gn","x":2.42,"x2":4.67,"y":0.2299,"y2":0.3119,"d":0.1},
{"pan":"pv","x":0.0004,"x2":0.00289,"y":0.0009,"y2":0.00907,"d":0.7},{"pan":"pv","x":0.00289,"x2":0.00538,"y":0.0009,"y2":0.00907,"d":1},{"pan":"pv","x":0.00538,"x2":0.00787,"y":0.0009,"y2":0.00907,"d":0.25},{"pan":"pv","x":0.00787,"x2":0.01036,"y":0.0009,"y2":0.00907,"d":0.1},{"pan":"pv","x":0.0004,"x2":0.00289,"y":0.00907,"y2":0.01724,"d":0.08},{"pan":"pv","x":0.00289,"x2":0.00538,"y":0.00907,"y2":0.01724,"d":0.08},
{"pan":"pb","x":0.00289,"x2":0.00538,"y":0.05885,"y2":0.0768,"d":1},{"pan":"pb","x":0.0004,"x2":0.00289,"y":0.0409,"y2":0.05885,"d":0.75},{"pan":"pb","x":0.0004,"x2":0.00289,"y":0.02295,"y2":0.0409,"d":0.4},{"pan":"pb","x":0.00289,"x2":0.00538,"y":0.0409,"y2":0.05885,"d":0.45},{"pan":"pb","x":0.0004,"x2":0.00289,"y":0.05885,"y2":0.0768,"d":0.3},{"pan":"pb","x":0.00289,"x2":0.00538,"y":0.0768,"y2":0.09475,"d":0.3},{"pan":"pb","x":0.00538,"x2":0.00787,"y":0.0768,"y2":0.09475,"d":0.2},{"pan":"pb","x":0.00538,"x2":0.00787,"y":0.09475,"y2":0.1127,"d":0.3},{"pan":"pb","x":0.0004,"x2":0.00289,"y":0.005,"y2":0.02295,"d":0.1},{"pan":"pb","x":0.00538,"x2":0.00787,"y":0.05885,"y2":0.0768,"d":0.1},{"pan":"pb","x":0.00787,"x2":0.01036,"y":0.1127,"y2":0.13065,"d":0.08},
{"pan":"vb","x":0.0009,"x2":0.00907,"y":0.005,"y2":0.02295,"d":0.2},{"pan":"vb","x":0.0009,"x2":0.00907,"y":0.02295,"y2":0.0409,"d":0.6},{"pan":"vb","x":0.0009,"x2":0.00907,"y":0.0409,"y2":0.05885,"d":1},{"pan":"vb","x":0.0009,"x2":0.00907,"y":0.05885,"y2":0.0768,"d":1},{"pan":"vb","x":0.0009,"x2":0.00907,"y":0.0768,"y2":0.09475,"d":0.45},{"pan":"vb","x":0.0009,"x2":0.00907,"y":0.09475,"y2":0.1127,"d":0.15},{"pan":"vb","x":0.0009,"x2":0.00907,"y":0.1127,"y2":0.13065,"d":0.1},{"pan":"vb","x":0.00907,"x2":0.01724,"y":0.02295,"y2":0.0409,"d":0.1},{"pan":"vb","x":0.00907,"x2":0.01724,"y":0.0409,"y2":0.05885,"d":0.1},{"pan":"vb","x":0.00907,"x2":0.01724,"y":0.05885,"y2":0.0768,"d":0.1},{"pan":"vb","x":0.00907,"x2":0.01724,"y":0.0768,"y2":0.09475,"d":0.1},
{"pan":"pn","x":0.0004,"x2":0.00289,"y":0.066,"y2":0.148,"d":0.6},{"pan":"pn","x":0.0004,"x2":0.00289,"y":0.148,"y2":0.2299,"d":0.5},{"pan":"pn","x":0.00289,"x2":0.00538,"y":0.066,"y2":0.148,"d":1},{"pan":"pn","x":0.00289,"x2":0.00538,"y":0.148,"y2":0.2299,"d":0.9},{"pan":"pn","x":0.00538,"x2":0.00787,"y":0.066,"y2":0.148,"d":0.2},{"pan":"pn","x":0.00538,"x2":0.00787,"y":0.148,"y2":0.2299,"d":0.15},{"pan":"pn","x":0.0004,"x2":0.00289,"y":0.2299,"y2":0.3119,"d":0.15},{"pan":"pn","x":0.00289,"x2":0.00538,"y":0.2299,"y2":0.3119,"d":0.15},{"pan":"pn","x":0.00787,"x2":0.01036,"y":0.066,"y2":0.148,"d":0.08},
{"pan":"vn","x":0.0009,"x2":0.00907,"y":0.066,"y2":0.148,"d":1},{"pan":"vn","x":0.0009,"x2":0.00907,"y":0.148,"y2":0.2299,"d":0.85},{"pan":"vn","x":0.0009,"x2":0.00907,"y":0.2299,"y2":0.3119,"d":0.3},{"pan":"vn","x":0.0009,"x2":0.00907,"y":0.3119,"y2":0.3938,"d":0.1},{"pan":"vn","x":0.00907,"x2":0.01724,"y":0.066,"y2":0.148,"d":0.35},{"pan":"vn","x":0.00907,"x2":0.01724,"y":0.148,"y2":0.2299,"d":0.2},
{"pan":"bn","x":0.0409,"x2":0.05885,"y":0.066,"y2":0.148,"d":1},{"pan":"bn","x":0.05885,"x2":0.0768,"y":0.066,"y2":0.148,"d":1},{"pan":"bn","x":0.0409,"x2":0.05885,"y":0.148,"y2":0.2299,"d":0.9},{"pan":"bn","x":0.05885,"x2":0.0768,"y":0.148,"y2":0.2299,"d":0.85},{"pan":"bn","x":0.02295,"x2":0.0409,"y":0.066,"y2":0.148,"d":0.5},{"pan":"bn","x":0.02295,"x2":0.0409,"y":0.148,"y2":0.2299,"d":0.4},{"pan":"bn","x":0.0768,"x2":0.09475,"y":0.066,"y2":0.148,"d":0.45},{"pan":"bn","x":0.0768,"x2":0.09475,"y":0.148,"y2":0.2299,"d":0.35},{"pan":"bn","x":0.09475,"x2":0.1127,"y":0.066,"y2":0.148,"d":0.2},{"pan":"bn","x":0.09475,"x2":0.1127,"y":0.148,"y2":0.2299,"d":0.12},{"pan":"bn","x":0.02295,"x2":0.0409,"y":0.2299,"y2":0.3119,"d":0.12},{"pan":"bn","x":0.0409,"x2":0.05885,"y":0.2299,"y2":0.3119,"d":0.15},{"pan":"bn","x":0.05885,"x2":0.0768,"y":0.2299,"y2":0.3119,"d":0.15},{"pan":"bn","x":0.0768,"x2":0.09475,"y":0.2299,"y2":0.3119,"d":0.1}
],
"C": [
{"pan":"gp","k":1,"i":0,"x":-0.15,"y":0.01067},{"pan":"gp","k":1,"i":1,"x":1.45,"y":0.01067},{"pan":"gp","k":1,"i":2,"x":2.73,"y":0.00996},{"pan":"gp","k":1,"i":3,"x":3.53,"y":0.00819},{"pan":"gp","k":1,"i":4,"x":3.95,"y":0.00536},{"pan":"gp","k":1,"i":5,"x":3.95,"y":0.00217},{"pan":"gp","k":1,"i":6,"x":3.85,"y":0},
{"pan":"gp","k":2,"i":0,"x":-0.15,"y":0.00783},{"pan":"gp","k":2,"i":1,"x":1.77,"y":0.00766},{"pan":"gp","k":2,"i":2,"x":2.57,"y":0.00642},{"pan":"gp","k":2,"i":3,"x":2.89,"y":0.00429},{"pan":"gp","k":2,"i":4,"x":2.89,"y":0},
{"pan":"gv","k":1,"i":0,"x":-0.15,"y":0.01367},{"pan":"gv","k":1,"i":1,"x":2.09,"y":0.01367},{"pan":"gv","k":1,"i":2,"x":3.37,"y":0.01193},{"pan":"gv","k":1,"i":3,"x":4.33,"y":0.00845},{"pan":"gv","k":1,"i":4,"x":4.71,"y":0.00438},{"pan":"gv","k":1,"i":5,"x":4.81,"y":-0.0003},
{"pan":"gv","k":2,"i":0,"x":-0.15,"y":0.01077},{"pan":"gv","k":2,"i":1,"x":2.09,"y":0.01077},{"pan":"gv","k":2,"i":2,"x":3.21,"y":0.00903},{"pan":"gv","k":2,"i":3,"x":3.85,"y":0.00554},{"pan":"gv","k":2,"i":4,"x":4.01,"y":-0.0003},
{"pan":"gb","k":1,"i":0,"x":-0.15,"y":0.139},{"pan":"gb","k":1,"i":1,"x":1.77,"y":0.139},{"pan":"gb","k":1,"i":2,"x":3.05,"y":0.1326},{"pan":"gb","k":1,"i":3,"x":4.01,"y":0.1173},{"pan":"gb","k":1,"i":4,"x":4.43,"y":0.0943},{"pan":"gb","k":1,"i":5,"x":4.43,"y":0.056},{"pan":"gb","k":1,"i":6,"x":4.17,"y":0.0356},{"pan":"gb","k":1,"i":7,"x":3.37,"y":0.0254},{"pan":"gb","k":1,"i":8,"x":1.77,"y":0.0216},{"pan":"gb","k":1,"i":9,"x":-0.15,"y":0.0216},
{"pan":"gb","k":2,"i":0,"x":-0.15,"y":0.1224},{"pan":"gb","k":2,"i":1,"x":1.77,"y":0.1224},{"pan":"gb","k":2,"i":2,"x":2.89,"y":0.1147},{"pan":"gb","k":2,"i":3,"x":3.47,"y":0.0943},{"pan":"gb","k":2,"i":4,"x":3.47,"y":0.056},{"pan":"gb","k":2,"i":5,"x":3.21,"y":0.0407},{"pan":"gb","k":2,"i":6,"x":2.41,"y":0.0331},{"pan":"gb","k":2,"i":7,"x":1.13,"y":0.0305},{"pan":"gb","k":2,"i":8,"x":-0.15,"y":0.0305},
{"pan":"gn","k":1,"i":0,"x":-0.15,"y":0.334},{"pan":"gn","k":1,"i":1,"x":1.61,"y":0.334},{"pan":"gn","k":1,"i":2,"x":2.25,"y":0.369},{"pan":"gn","k":1,"i":3,"x":2.89,"y":0.439},{"pan":"gn","k":1,"i":4,"x":3.53,"y":0.485},{"pan":"gn","k":1,"i":5,"x":3.85,"y":0.45},{"pan":"gn","k":1,"i":6,"x":4.07,"y":0.357},{"pan":"gn","k":1,"i":7,"x":4.11,"y":0.183},{"pan":"gn","k":1,"i":8,"x":4.14,"y":0.054},
{"pan":"gn","k":2,"i":0,"x":-0.15,"y":0.287},{"pan":"gn","k":2,"i":1,"x":1.77,"y":0.287},{"pan":"gn","k":2,"i":2,"x":2.57,"y":0.241},{"pan":"gn","k":2,"i":3,"x":2.83,"y":0.159},{"pan":"gn","k":2,"i":4,"x":2.89,"y":0.054},
{"pan":"pv","k":1,"i":0,"x":0.00005,"y":0.0125},{"pan":"pv","k":1,"i":1,"x":0.00252,"y":0.0145},{"pan":"pv","k":1,"i":2,"x":0.00546,"y":0.0156},{"pan":"pv","k":1,"i":3,"x":0.00783,"y":0.014},{"pan":"pv","k":1,"i":4,"x":0.0102,"y":0.00984},{"pan":"pv","k":1,"i":5,"x":0.011,"y":0.0059},{"pan":"pv","k":1,"i":6,"x":0.01137,"y":-0.0003},
{"pan":"pb","k":1,"i":0,"x":-0.0001,"y":0.06},{"pan":"pb","k":1,"i":1,"x":0.0004,"y":0.0622},{"pan":"pb","k":1,"i":2,"x":0.00309,"y":0.0877},{"pan":"pb","k":1,"i":3,"x":0.00663,"y":0.1173},{"pan":"pb","k":1,"i":4,"x":0.0096,"y":0.1387},{"pan":"pb","k":1,"i":5,"x":0.01198,"y":0.1428},{"pan":"pb","k":1,"i":6,"x":0.01137,"y":0.126},{"pan":"pb","k":1,"i":7,"x":0.009,"y":0.1004},{"pan":"pb","k":1,"i":8,"x":0.00663,"y":0.0749},{"pan":"pb","k":1,"i":9,"x":0.00369,"y":0.0451},{"pan":"pb","k":1,"i":10,"x":0.00132,"y":0.0195},{"pan":"pb","k":1,"i":11,"x":0.0004,"y":0.0137},{"pan":"pb","k":1,"i":12,"x":-0.0001,"y":0.012},
{"pan":"pb","k":2,"i":0,"x":-0.0001,"y":0.035},{"pan":"pb","k":2,"i":1,"x":0.0004,"y":0.0366},{"pan":"pb","k":2,"i":2,"x":0.00309,"y":0.0622},{"pan":"pb","k":2,"i":3,"x":0.00546,"y":0.0851},{"pan":"pb","k":2,"i":4,"x":0.00688,"y":0.102},{"pan":"pb","k":2,"i":5,"x":0.00642,"y":0.079},{"pan":"pb","k":2,"i":6,"x":0.00429,"y":0.0535},{"pan":"pb","k":2,"i":7,"x":0.00192,"y":0.0323},{"pan":"pb","k":2,"i":8,"x":0.0004,"y":0.0239},{"pan":"pb","k":2,"i":9,"x":-0.0001,"y":0.022},
{"pan":"vb","k":1,"i":0,"x":-0.00026,"y":0.1377},{"pan":"vb","k":1,"i":1,"x":0.00787,"y":0.1377},{"pan":"vb","k":1,"i":2,"x":0.01251,"y":0.1339},{"pan":"vb","k":1,"i":3,"x":0.01402,"y":0.1198},{"pan":"vb","k":1,"i":4,"x":0.01437,"y":0.0943},{"pan":"vb","k":1,"i":5,"x":0.0146,"y":0.0688},{"pan":"vb","k":1,"i":6,"x":0.01367,"y":0.0407},{"pan":"vb","k":1,"i":7,"x":0.01135,"y":0.0229},{"pan":"vb","k":1,"i":8,"x":0.00671,"y":0.0139},{"pan":"vb","k":1,"i":9,"x":-0.00026,"y":0.0114},
{"pan":"vb","k":2,"i":0,"x":-0.00026,"y":0.102},{"pan":"vb","k":2,"i":1,"x":0.00671,"y":0.102},{"pan":"vb","k":2,"i":2,"x":0.00996,"y":0.0943},{"pan":"vb","k":2,"i":3,"x":0.01065,"y":0.0765},{"pan":"vb","k":2,"i":4,"x":0.01042,"y":0.0509},{"pan":"vb","k":2,"i":5,"x":0.00903,"y":0.0356},{"pan":"vb","k":2,"i":6,"x":0.00554,"y":0.0292},{"pan":"vb","k":2,"i":7,"x":-0.00026,"y":0.028},
{"pan":"pn","k":1,"i":0,"x":0.00005,"y":0.446},{"pan":"pn","k":1,"i":1,"x":0.00309,"y":0.504},{"pan":"pn","k":1,"i":2,"x":0.00546,"y":0.532},{"pan":"pn","k":1,"i":3,"x":0.0096,"y":0.544},{"pan":"pn","k":1,"i":4,"x":0.01056,"y":0.504},{"pan":"pn","k":1,"i":5,"x":0.0102,"y":0.349},{"pan":"pn","k":1,"i":6,"x":0.01056,"y":0.213},{"pan":"pn","k":1,"i":7,"x":0.01113,"y":0.054},
{"pan":"pn","k":2,"i":0,"x":0.00005,"y":0.349},{"pan":"pn","k":2,"i":1,"x":0.00369,"y":0.299},{"pan":"pn","k":2,"i":2,"x":0.00606,"y":0.272},{"pan":"pn","k":2,"i":3,"x":0.00688,"y":0.194},{"pan":"pn","k":2,"i":4,"x":0.00723,"y":0.054},
{"pan":"vn","k":1,"i":0,"x":-0.00026,"y":0.582},{"pan":"vn","k":1,"i":1,"x":0.00868,"y":0.563},{"pan":"vn","k":1,"i":2,"x":0.01251,"y":0.504},{"pan":"vn","k":1,"i":3,"x":0.01448,"y":0.407},{"pan":"vn","k":1,"i":4,"x":0.01634,"y":0.252},{"pan":"vn","k":1,"i":5,"x":0.01948,"y":0.054},
{"pan":"vn","k":2,"i":0,"x":-0.00026,"y":0.272},{"pan":"vn","k":2,"i":1,"x":0.00787,"y":0.252},{"pan":"vn","k":2,"i":2,"x":0.01054,"y":0.174},{"pan":"vn","k":2,"i":3,"x":0.0117,"y":0.054},
{"pan":"bn","k":1,"i":0,"x":0.0155,"y":0.054},{"pan":"bn","k":1,"i":1,"x":0.016,"y":0.066},{"pan":"bn","k":1,"i":2,"x":0.0221,"y":0.233},{"pan":"bn","k":1,"i":3,"x":0.0349,"y":0.349},{"pan":"bn","k":1,"i":4,"x":0.0604,"y":0.466},{"pan":"bn","k":1,"i":5,"x":0.0859,"y":0.524},{"pan":"bn","k":1,"i":6,"x":0.1198,"y":0.552},{"pan":"bn","k":1,"i":7,"x":0.1326,"y":0.504},{"pan":"bn","k":1,"i":8,"x":0.1242,"y":0.388},{"pan":"bn","k":1,"i":9,"x":0.1497,"y":0.272},{"pan":"bn","k":1,"i":10,"x":0.1538,"y":0.213},{"pan":"bn","k":1,"i":11,"x":0.1497,"y":0.066},{"pan":"bn","k":1,"i":12,"x":0.1495,"y":0.054},
{"pan":"bn","k":2,"i":0,"x":0.026,"y":0.054},{"pan":"bn","k":2,"i":1,"x":0.0262,"y":0.066},{"pan":"bn","k":2,"i":2,"x":0.0305,"y":0.194},{"pan":"bn","k":2,"i":3,"x":0.0476,"y":0.272},{"pan":"bn","k":2,"i":4,"x":0.0731,"y":0.291},{"pan":"bn","k":2,"i":5,"x":0.0859,"y":0.311},{"pan":"bn","k":2,"i":6,"x":0.1114,"y":0.272},{"pan":"bn","k":2,"i":7,"x":0.1181,"y":0.174},{"pan":"bn","k":2,"i":8,"x":0.1155,"y":0.054}
]
},
"concat": [
  {"width": 140.7, "height": 140.5, "data": {"name": "H"}, "transform": [{"filter": "datum.h === 'g'"}],
   "mark": {"type": "line", "interpolate": "step-after", "color": "#000", "strokeWidth": 1.4, "clip": true},
   "encoding": {"x": {"field": "e", "type": "quantitative", "scale": {"domain": [0.17, 45.2], "nice": false, "zero": false}, "axis": {"values": [10,20,30,40], "labels": false, "title": null}},
                "y": {"field": "c", "type": "quantitative", "scale": {"domain": [0, 3657.5], "nice": false}, "axis": {"values": [1000,2000,3000], "labels": false, "title": null}}}},
  {"width": 140.7, "height": 140.5, "view": {"stroke": null}, "data": {"values": []}, "mark": "point"},
  {"width": 140.7, "height": 140.5, "view": {"stroke": null}, "data": {"values": []}, "mark": "point"},
  {"width": 140.7, "height": 140.5, "view": {"stroke": null}, "data": {"values": []}, "mark": "point"},
  {"width": 140.7, "height": 140.5, "view": {"stroke": null}, "data": {"values": []}, "mark": "point"},

  {"width": 140.7, "height": 140.5, "layer": [
    {"data": {"name": "S"}, "mark": {"type": "circle", "size": 6, "color": "#000", "opacity": 0.2, "clip": true},
     "encoding": {"x": {"field": "g", "type": "quantitative", "scale": {"domain": [0.17, 45.2], "nice": false, "zero": false}, "axis": {"values": [10,20,30,40], "labels": false, "title": null}},
                  "y": {"field": "p", "type": "quantitative", "scale": {"domain": [0.0004, 0.0502], "nice": false, "zero": false}, "axis": {"values": [0.015,0.03,0.045], "format": ".3f", "title": "Yᴘᴀʜ"}}}},
    {"data": {"name": "F"}, "transform": [{"filter": "datum.pan === 'gp'"}], "mark": {"type": "area", "color": "#fff", "opacity": 1, "clip": true, "orient": "vertical"},
     "encoding": {"x": {"field": "x", "type": "quantitative", "scale": {"domain": [0.17, 45.2], "nice": false, "zero": false}, "axis": {"values": [10,20,30,40], "labels": false, "title": null}}, "y": {"field": "y", "type": "quantitative", "scale": {"domain": [0.0004, 0.0502], "nice": false, "zero": false}, "axis": {"values": [0.015,0.03,0.045], "format": ".3f", "title": "Yᴘᴀʜ"}}, "y2": {"field": "y2"}}},
    {"data": {"name": "D"}, "transform": [{"filter": "datum.pan === 'gp'"}], "mark": {"type": "rect", "color": "#000", "clip": true},
     "encoding": {"x": {"field": "x", "type": "quantitative", "scale": {"domain": [0.17, 45.2], "nice": false, "zero": false}, "axis": {"values": [10,20,30,40], "labels": false, "title": null}}, "x2": {"field": "x2"}, "y": {"field": "y", "type": "quantitative", "scale": {"domain": [0.0004, 0.0502], "nice": false, "zero": false}, "axis": {"values": [0.015,0.03,0.045], "format": ".3f", "title": "Yᴘᴀʜ"}}, "y2": {"field": "y2"}, "opacity": {"field": "d", "type": "quantitative", "scale": {"domain": [0, 1], "range": [0, 1]}, "legend": null}}},
    {"data": {"name": "C"}, "transform": [{"filter": "datum.pan === 'gp'"}], "mark": {"type": "line", "color": "#000", "strokeWidth": 1.4, "clip": true},
     "encoding": {"x": {"field": "x", "type": "quantitative", "scale": {"domain": [0.17, 45.2], "nice": false, "zero": false}, "axis": {"values": [10,20,30,40], "labels": false, "title": null}}, "y": {"field": "y", "type": "quantitative", "scale": {"domain": [0.0004, 0.0502], "nice": false, "zero": false}, "axis": {"values": [0.015,0.03,0.045], "format": ".3f", "title": "Yᴘᴀʜ"}}, "detail": {"field": "k", "type": "nominal"}, "order": {"field": "i", "type": "quantitative"}}}
  ]},
  {"width": 140.7, "height": 140.5, "data": {"name": "H"}, "transform": [{"filter": "datum.h === 'p'"}],
   "mark": {"type": "line", "interpolate": "step-after", "color": "#000", "strokeWidth": 1.4, "clip": true},
   "encoding": {"x": {"field": "e", "type": "quantitative", "scale": {"domain": [0.0004, 0.0502], "nice": false, "zero": false}, "axis": {"values": [0.015,0.03,0.045], "labels": false, "title": null}},
                "y": {"field": "c", "type": "quantitative", "scale": {"domain": [0, 1764.4], "nice": false}, "axis": {"values": [500,1000,1500], "labels": false, "title": null}}}},
  {"width": 140.7, "height": 140.5, "view": {"stroke": null}, "data": {"values": []}, "mark": "point"},
  {"width": 140.7, "height": 140.5, "view": {"stroke": null}, "data": {"values": []}, "mark": "point"},
  {"width": 140.7, "height": 140.5, "view": {"stroke": null}, "data": {"values": []}, "mark": "point"},

  {"width": 140.7, "height": 140.5, "layer": [
    {"data": {"name": "S"}, "mark": {"type": "circle", "size": 6, "color": "#000", "opacity": 0.2, "clip": true},
     "encoding": {"x": {"field": "g", "type": "quantitative", "scale": {"domain": [0.17, 45.2], "nice": false, "zero": false}, "axis": {"values": [10,20,30,40], "labels": false, "title": null}},
                  "y": {"field": "v", "type": "quantitative", "scale": {"domain": [0.0009, 0.1643], "nice": false, "zero": false}, "axis": {"values": [0.04,0.08,0.12,0.16], "format": ".2f", "title": "Yᴠꜱɢ"}}}},
    {"data": {"name": "F"}, "transform": [{"filter": "datum.pan === 'gv'"}], "mark": {"type": "area", "color": "#fff", "opacity": 1, "clip": true, "orient": "vertical"},
     "encoding": {"x": {"field": "x", "type": "quantitative", "scale": {"domain": [0.17, 45.2], "nice": false, "zero": false}, "axis": {"values": [10,20,30,40], "labels": false, "title": null}}, "y": {"field": "y", "type": "quantitative", "scale": {"domain": [0.0009, 0.1643], "nice": false, "zero": false}, "axis": {"values": [0.04,0.08,0.12,0.16], "format": ".2f", "title": "Yᴠꜱɢ"}}, "y2": {"field": "y2"}}},
    {"data": {"name": "D"}, "transform": [{"filter": "datum.pan === 'gv'"}], "mark": {"type": "rect", "color": "#000", "clip": true},
     "encoding": {"x": {"field": "x", "type": "quantitative", "scale": {"domain": [0.17, 45.2], "nice": false, "zero": false}, "axis": {"values": [10,20,30,40], "labels": false, "title": null}}, "x2": {"field": "x2"}, "y": {"field": "y", "type": "quantitative", "scale": {"domain": [0.0009, 0.1643], "nice": false, "zero": false}, "axis": {"values": [0.04,0.08,0.12,0.16], "format": ".2f", "title": "Yᴠꜱɢ"}}, "y2": {"field": "y2"}, "opacity": {"field": "d", "type": "quantitative", "scale": {"domain": [0, 1], "range": [0, 1]}, "legend": null}}},
    {"data": {"name": "C"}, "transform": [{"filter": "datum.pan === 'gv'"}], "mark": {"type": "line", "color": "#000", "strokeWidth": 1.4, "clip": true},
     "encoding": {"x": {"field": "x", "type": "quantitative", "scale": {"domain": [0.17, 45.2], "nice": false, "zero": false}, "axis": {"values": [10,20,30,40], "labels": false, "title": null}}, "y": {"field": "y", "type": "quantitative", "scale": {"domain": [0.0009, 0.1643], "nice": false, "zero": false}, "axis": {"values": [0.04,0.08,0.12,0.16], "format": ".2f", "title": "Yᴠꜱɢ"}}, "detail": {"field": "k", "type": "nominal"}, "order": {"field": "i", "type": "quantitative"}}}
  ]},
  {"width": 140.7, "height": 140.5, "layer": [
    {"data": {"name": "S"}, "mark": {"type": "circle", "size": 6, "color": "#000", "opacity": 0.2, "clip": true},
     "encoding": {"x": {"field": "p", "type": "quantitative", "scale": {"domain": [0.0004, 0.0502], "nice": false, "zero": false}, "axis": {"values": [0.015,0.03,0.045], "labels": false, "title": null}},
                  "y": {"field": "v", "type": "quantitative", "scale": {"domain": [0.0009, 0.1643], "nice": false, "zero": false}, "axis": {"values": [0.04,0.08,0.12,0.16], "labels": false, "title": null}}}},
    {"data": {"name": "F"}, "transform": [{"filter": "datum.pan === 'pv'"}], "mark": {"type": "area", "color": "#fff", "opacity": 1, "clip": true, "orient": "vertical"},
     "encoding": {"x": {"field": "x", "type": "quantitative", "scale": {"domain": [0.0004, 0.0502], "nice": false, "zero": false}, "axis": {"values": [0.015,0.03,0.045], "labels": false, "title": null}}, "y": {"field": "y", "type": "quantitative", "scale": {"domain": [0.0009, 0.1643], "nice": false, "zero": false}, "axis": {"values": [0.04,0.08,0.12,0.16], "labels": false, "title": null}}, "y2": {"field": "y2"}}},
    {"data": {"name": "D"}, "transform": [{"filter": "datum.pan === 'pv'"}], "mark": {"type": "rect", "color": "#000", "clip": true},
     "encoding": {"x": {"field": "x", "type": "quantitative", "scale": {"domain": [0.0004, 0.0502], "nice": false, "zero": false}, "axis": {"values": [0.015,0.03,0.045], "labels": false, "title": null}}, "x2": {"field": "x2"}, "y": {"field": "y", "type": "quantitative", "scale": {"domain": [0.0009, 0.1643], "nice": false, "zero": false}, "axis": {"values": [0.04,0.08,0.12,0.16], "labels": false, "title": null}}, "y2": {"field": "y2"}, "opacity": {"field": "d", "type": "quantitative", "scale": {"domain": [0, 1], "range": [0, 1]}, "legend": null}}},
    {"data": {"name": "C"}, "transform": [{"filter": "datum.pan === 'pv'"}], "mark": {"type": "line", "color": "#000", "strokeWidth": 1.4, "clip": true},
     "encoding": {"x": {"field": "x", "type": "quantitative", "scale": {"domain": [0.0004, 0.0502], "nice": false, "zero": false}, "axis": {"values": [0.015,0.03,0.045], "labels": false, "title": null}}, "y": {"field": "y", "type": "quantitative", "scale": {"domain": [0.0009, 0.1643], "nice": false, "zero": false}, "axis": {"values": [0.04,0.08,0.12,0.16], "labels": false, "title": null}}, "detail": {"field": "k", "type": "nominal"}, "order": {"field": "i", "type": "quantitative"}}}
  ]},
  {"width": 140.7, "height": 140.5, "data": {"name": "H"}, "transform": [{"filter": "datum.h === 'v'"}],
   "mark": {"type": "line", "interpolate": "step-after", "color": "#000", "strokeWidth": 1.4, "clip": true},
   "encoding": {"x": {"field": "e", "type": "quantitative", "scale": {"domain": [0.0009, 0.1643], "nice": false, "zero": false}, "axis": {"values": [0.04,0.08,0.12,0.16], "labels": false, "title": null}},
                "y": {"field": "c", "type": "quantitative", "scale": {"domain": [0, 3934.7], "nice": false}, "axis": {"values": [1000,2000,3000], "labels": false, "title": null}}}},
  {"width": 140.7, "height": 140.5, "view": {"stroke": null}, "data": {"values": []}, "mark": "point"},
  {"width": 140.7, "height": 140.5, "view": {"stroke": null}, "data": {"values": []}, "mark": "point"},

  {"width": 140.7, "height": 140.5, "layer": [
    {"data": {"name": "S"}, "mark": {"type": "circle", "size": 6, "color": "#000", "opacity": 0.2, "clip": true},
     "encoding": {"x": {"field": "g", "type": "quantitative", "scale": {"domain": [0.17, 45.2], "nice": false, "zero": false}, "axis": {"values": [10,20,30,40], "labels": false, "title": null}},
                  "y": {"field": "b", "type": "quantitative", "scale": {"domain": [0.005, 0.364], "nice": false, "zero": false}, "axis": {"values": [0.08,0.16,0.24,0.32], "format": ".2f", "title": "Yʙɢ"}}}},
    {"data": {"name": "F"}, "transform": [{"filter": "datum.pan === 'gb'"}], "mark": {"type": "area", "color": "#fff", "opacity": 1, "clip": true, "orient": "vertical"},
     "encoding": {"x": {"field": "x", "type": "quantitative", "scale": {"domain": [0.17, 45.2], "nice": false, "zero": false}, "axis": {"values": [10,20,30,40], "labels": false, "title": null}}, "y": {"field": "y", "type": "quantitative", "scale": {"domain": [0.005, 0.364], "nice": false, "zero": false}, "axis": {"values": [0.08,0.16,0.24,0.32], "format": ".2f", "title": "Yʙɢ"}}, "y2": {"field": "y2"}}},
    {"data": {"name": "D"}, "transform": [{"filter": "datum.pan === 'gb'"}], "mark": {"type": "rect", "color": "#000", "clip": true},
     "encoding": {"x": {"field": "x", "type": "quantitative", "scale": {"domain": [0.17, 45.2], "nice": false, "zero": false}, "axis": {"values": [10,20,30,40], "labels": false, "title": null}}, "x2": {"field": "x2"}, "y": {"field": "y", "type": "quantitative", "scale": {"domain": [0.005, 0.364], "nice": false, "zero": false}, "axis": {"values": [0.08,0.16,0.24,0.32], "format": ".2f", "title": "Yʙɢ"}}, "y2": {"field": "y2"}, "opacity": {"field": "d", "type": "quantitative", "scale": {"domain": [0, 1], "range": [0, 1]}, "legend": null}}},
    {"data": {"name": "C"}, "transform": [{"filter": "datum.pan === 'gb'"}], "mark": {"type": "line", "color": "#000", "strokeWidth": 1.4, "clip": true},
     "encoding": {"x": {"field": "x", "type": "quantitative", "scale": {"domain": [0.17, 45.2], "nice": false, "zero": false}, "axis": {"values": [10,20,30,40], "labels": false, "title": null}}, "y": {"field": "y", "type": "quantitative", "scale": {"domain": [0.005, 0.364], "nice": false, "zero": false}, "axis": {"values": [0.08,0.16,0.24,0.32], "format": ".2f", "title": "Yʙɢ"}}, "detail": {"field": "k", "type": "nominal"}, "order": {"field": "i", "type": "quantitative"}}}
  ]},
  {"width": 140.7, "height": 140.5, "layer": [
    {"data": {"name": "S"}, "mark": {"type": "circle", "size": 6, "color": "#000", "opacity": 0.2, "clip": true},
     "encoding": {"x": {"field": "p", "type": "quantitative", "scale": {"domain": [0.0004, 0.0502], "nice": false, "zero": false}, "axis": {"values": [0.015,0.03,0.045], "labels": false, "title": null}},
                  "y": {"field": "b", "type": "quantitative", "scale": {"domain": [0.005, 0.364], "nice": false, "zero": false}, "axis": {"values": [0.08,0.16,0.24,0.32], "labels": false, "title": null}}}},
    {"data": {"name": "F"}, "transform": [{"filter": "datum.pan === 'pb'"}], "mark": {"type": "area", "color": "#fff", "opacity": 1, "clip": true, "orient": "vertical"},
     "encoding": {"x": {"field": "x", "type": "quantitative", "scale": {"domain": [0.0004, 0.0502], "nice": false, "zero": false}, "axis": {"values": [0.015,0.03,0.045], "labels": false, "title": null}}, "y": {"field": "y", "type": "quantitative", "scale": {"domain": [0.005, 0.364], "nice": false, "zero": false}, "axis": {"values": [0.08,0.16,0.24,0.32], "labels": false, "title": null}}, "y2": {"field": "y2"}}},
    {"data": {"name": "D"}, "transform": [{"filter": "datum.pan === 'pb'"}], "mark": {"type": "rect", "color": "#000", "clip": true},
     "encoding": {"x": {"field": "x", "type": "quantitative", "scale": {"domain": [0.0004, 0.0502], "nice": false, "zero": false}, "axis": {"values": [0.015,0.03,0.045], "labels": false, "title": null}}, "x2": {"field": "x2"}, "y": {"field": "y", "type": "quantitative", "scale": {"domain": [0.005, 0.364], "nice": false, "zero": false}, "axis": {"values": [0.08,0.16,0.24,0.32], "labels": false, "title": null}}, "y2": {"field": "y2"}, "opacity": {"field": "d", "type": "quantitative", "scale": {"domain": [0, 1], "range": [0, 1]}, "legend": null}}},
    {"data": {"name": "C"}, "transform": [{"filter": "datum.pan === 'pb'"}], "mark": {"type": "line", "color": "#000", "strokeWidth": 1.4, "clip": true},
     "encoding": {"x": {"field": "x", "type": "quantitative", "scale": {"domain": [0.0004, 0.0502], "nice": false, "zero": false}, "axis": {"values": [0.015,0.03,0.045], "labels": false, "title": null}}, "y": {"field": "y", "type": "quantitative", "scale": {"domain": [0.005, 0.364], "nice": false, "zero": false}, "axis": {"values": [0.08,0.16,0.24,0.32], "labels": false, "title": null}}, "detail": {"field": "k", "type": "nominal"}, "order": {"field": "i", "type": "quantitative"}}}
  ]},
  {"width": 140.7, "height": 140.5, "layer": [
    {"data": {"name": "S"}, "mark": {"type": "circle", "size": 6, "color": "#000", "opacity": 0.2, "clip": true},
     "encoding": {"x": {"field": "v", "type": "quantitative", "scale": {"domain": [0.0009, 0.1643], "nice": false, "zero": false}, "axis": {"values": [0.04,0.08,0.12,0.16], "labels": false, "title": null}},
                  "y": {"field": "b", "type": "quantitative", "scale": {"domain": [0.005, 0.364], "nice": false, "zero": false}, "axis": {"values": [0.08,0.16,0.24,0.32], "labels": false, "title": null}}}},
    {"data": {"name": "F"}, "transform": [{"filter": "datum.pan === 'vb'"}], "mark": {"type": "area", "color": "#fff", "opacity": 1, "clip": true, "orient": "vertical"},
     "encoding": {"x": {"field": "x", "type": "quantitative", "scale": {"domain": [0.0009, 0.1643], "nice": false, "zero": false}, "axis": {"values": [0.04,0.08,0.12,0.16], "labels": false, "title": null}}, "y": {"field": "y", "type": "quantitative", "scale": {"domain": [0.005, 0.364], "nice": false, "zero": false}, "axis": {"values": [0.08,0.16,0.24,0.32], "labels": false, "title": null}}, "y2": {"field": "y2"}}},
    {"data": {"name": "D"}, "transform": [{"filter": "datum.pan === 'vb'"}], "mark": {"type": "rect", "color": "#000", "clip": true},
     "encoding": {"x": {"field": "x", "type": "quantitative", "scale": {"domain": [0.0009, 0.1643], "nice": false, "zero": false}, "axis": {"values": [0.04,0.08,0.12,0.16], "labels": false, "title": null}}, "x2": {"field": "x2"}, "y": {"field": "y", "type": "quantitative", "scale": {"domain": [0.005, 0.364], "nice": false, "zero": false}, "axis": {"values": [0.08,0.16,0.24,0.32], "labels": false, "title": null}}, "y2": {"field": "y2"}, "opacity": {"field": "d", "type": "quantitative", "scale": {"domain": [0, 1], "range": [0, 1]}, "legend": null}}},
    {"data": {"name": "C"}, "transform": [{"filter": "datum.pan === 'vb'"}], "mark": {"type": "line", "color": "#000", "strokeWidth": 1.4, "clip": true},
     "encoding": {"x": {"field": "x", "type": "quantitative", "scale": {"domain": [0.0009, 0.1643], "nice": false, "zero": false}, "axis": {"values": [0.04,0.08,0.12,0.16], "labels": false, "title": null}}, "y": {"field": "y", "type": "quantitative", "scale": {"domain": [0.005, 0.364], "nice": false, "zero": false}, "axis": {"values": [0.08,0.16,0.24,0.32], "labels": false, "title": null}}, "detail": {"field": "k", "type": "nominal"}, "order": {"field": "i", "type": "quantitative"}}}
  ]},
  {"width": 140.7, "height": 140.5, "data": {"name": "H"}, "transform": [{"filter": "datum.h === 'b'"}],
   "mark": {"type": "line", "interpolate": "step-after", "color": "#000", "strokeWidth": 1.4, "clip": true},
   "encoding": {"x": {"field": "e", "type": "quantitative", "scale": {"domain": [0.005, 0.364], "nice": false, "zero": false}, "axis": {"values": [0.08,0.16,0.24,0.32], "labels": false, "title": null}},
                "y": {"field": "c", "type": "quantitative", "scale": {"domain": [0, 1163.8], "nice": false}, "axis": {"values": [250,500,750,1000], "labels": false, "title": null}}}},
  {"width": 140.7, "height": 140.5, "view": {"stroke": null}, "data": {"values": []}, "mark": "point"},

  {"width": 140.7, "height": 140.5, "layer": [
    {"data": {"name": "S"}, "mark": {"type": "circle", "size": 6, "color": "#000", "opacity": 0.2, "clip": true},
     "encoding": {"x": {"field": "g", "type": "quantitative", "scale": {"domain": [0.17, 45.2], "nice": false, "zero": false}, "axis": {"values": [10,20,30,40], "format": "d", "title": "G₀", "labelOffset": 4.4}},
                  "y": {"field": "n", "type": "quantitative", "scale": {"domain": [0.066, 1.705], "nice": false, "zero": false}, "axis": {"values": [0.4,0.8,1.2,1.6], "format": ".1f", "title": "NIR"}}}},
    {"data": {"name": "F"}, "transform": [{"filter": "datum.pan === 'gn'"}], "mark": {"type": "area", "color": "#fff", "opacity": 1, "clip": true, "orient": "vertical"},
     "encoding": {"x": {"field": "x", "type": "quantitative", "scale": {"domain": [0.17, 45.2], "nice": false, "zero": false}, "axis": {"values": [10,20,30,40], "format": "d", "title": "G₀", "labelOffset": 4.4}}, "y": {"field": "y", "type": "quantitative", "scale": {"domain": [0.066, 1.705], "nice": false, "zero": false}, "axis": {"values": [0.4,0.8,1.2,1.6], "format": ".1f", "title": "NIR"}}, "y2": {"field": "y2"}}},
    {"data": {"name": "D"}, "transform": [{"filter": "datum.pan === 'gn'"}], "mark": {"type": "rect", "color": "#000", "clip": true},
     "encoding": {"x": {"field": "x", "type": "quantitative", "scale": {"domain": [0.17, 45.2], "nice": false, "zero": false}, "axis": {"values": [10,20,30,40], "format": "d", "title": "G₀", "labelOffset": 4.4}}, "x2": {"field": "x2"}, "y": {"field": "y", "type": "quantitative", "scale": {"domain": [0.066, 1.705], "nice": false, "zero": false}, "axis": {"values": [0.4,0.8,1.2,1.6], "format": ".1f", "title": "NIR"}}, "y2": {"field": "y2"}, "opacity": {"field": "d", "type": "quantitative", "scale": {"domain": [0, 1], "range": [0, 1]}, "legend": null}}},
    {"data": {"name": "C"}, "transform": [{"filter": "datum.pan === 'gn'"}], "mark": {"type": "line", "color": "#000", "strokeWidth": 1.4, "clip": true},
     "encoding": {"x": {"field": "x", "type": "quantitative", "scale": {"domain": [0.17, 45.2], "nice": false, "zero": false}, "axis": {"values": [10,20,30,40], "format": "d", "title": "G₀", "labelOffset": 4.4}}, "y": {"field": "y", "type": "quantitative", "scale": {"domain": [0.066, 1.705], "nice": false, "zero": false}, "axis": {"values": [0.4,0.8,1.2,1.6], "format": ".1f", "title": "NIR"}}, "detail": {"field": "k", "type": "nominal"}, "order": {"field": "i", "type": "quantitative"}}}
  ]},
  {"width": 140.7, "height": 140.5, "layer": [
    {"data": {"name": "S"}, "mark": {"type": "circle", "size": 6, "color": "#000", "opacity": 0.2, "clip": true},
     "encoding": {"x": {"field": "p", "type": "quantitative", "scale": {"domain": [0.0004, 0.0502], "nice": false, "zero": false}, "axis": {"values": [0.015,0.03,0.045], "format": ".3f", "title": "Yᴘᴀʜ", "labelOffset": 9.9}},
                  "y": {"field": "n", "type": "quantitative", "scale": {"domain": [0.066, 1.705], "nice": false, "zero": false}, "axis": {"values": [0.4,0.8,1.2,1.6], "labels": false, "title": null}}}},
    {"data": {"name": "F"}, "transform": [{"filter": "datum.pan === 'pn'"}], "mark": {"type": "area", "color": "#fff", "opacity": 1, "clip": true, "orient": "vertical"},
     "encoding": {"x": {"field": "x", "type": "quantitative", "scale": {"domain": [0.0004, 0.0502], "nice": false, "zero": false}, "axis": {"values": [0.015,0.03,0.045], "format": ".3f", "title": "Yᴘᴀʜ", "labelOffset": 9.9}}, "y": {"field": "y", "type": "quantitative", "scale": {"domain": [0.066, 1.705], "nice": false, "zero": false}, "axis": {"values": [0.4,0.8,1.2,1.6], "labels": false, "title": null}}, "y2": {"field": "y2"}}},
    {"data": {"name": "D"}, "transform": [{"filter": "datum.pan === 'pn'"}], "mark": {"type": "rect", "color": "#000", "clip": true},
     "encoding": {"x": {"field": "x", "type": "quantitative", "scale": {"domain": [0.0004, 0.0502], "nice": false, "zero": false}, "axis": {"values": [0.015,0.03,0.045], "format": ".3f", "title": "Yᴘᴀʜ", "labelOffset": 9.9}}, "x2": {"field": "x2"}, "y": {"field": "y", "type": "quantitative", "scale": {"domain": [0.066, 1.705], "nice": false, "zero": false}, "axis": {"values": [0.4,0.8,1.2,1.6], "labels": false, "title": null}}, "y2": {"field": "y2"}, "opacity": {"field": "d", "type": "quantitative", "scale": {"domain": [0, 1], "range": [0, 1]}, "legend": null}}},
    {"data": {"name": "C"}, "transform": [{"filter": "datum.pan === 'pn'"}], "mark": {"type": "line", "color": "#000", "strokeWidth": 1.4, "clip": true},
     "encoding": {"x": {"field": "x", "type": "quantitative", "scale": {"domain": [0.0004, 0.0502], "nice": false, "zero": false}, "axis": {"values": [0.015,0.03,0.045], "format": ".3f", "title": "Yᴘᴀʜ", "labelOffset": 9.9}}, "y": {"field": "y", "type": "quantitative", "scale": {"domain": [0.066, 1.705], "nice": false, "zero": false}, "axis": {"values": [0.4,0.8,1.2,1.6], "labels": false, "title": null}}, "detail": {"field": "k", "type": "nominal"}, "order": {"field": "i", "type": "quantitative"}}}
  ]},
  {"width": 140.7, "height": 140.5, "layer": [
    {"data": {"name": "S"}, "mark": {"type": "circle", "size": 6, "color": "#000", "opacity": 0.2, "clip": true},
     "encoding": {"x": {"field": "v", "type": "quantitative", "scale": {"domain": [0.0009, 0.1643], "nice": false, "zero": false}, "axis": {"values": [0.04,0.08,0.12,0.16], "format": ".2f", "title": "Yᴠꜱɢ", "labelOffset": 7.7}},
                  "y": {"field": "n", "type": "quantitative", "scale": {"domain": [0.066, 1.705], "nice": false, "zero": false}, "axis": {"values": [0.4,0.8,1.2,1.6], "labels": false, "title": null}}}},
    {"data": {"name": "F"}, "transform": [{"filter": "datum.pan === 'vn'"}], "mark": {"type": "area", "color": "#fff", "opacity": 1, "clip": true, "orient": "vertical"},
     "encoding": {"x": {"field": "x", "type": "quantitative", "scale": {"domain": [0.0009, 0.1643], "nice": false, "zero": false}, "axis": {"values": [0.04,0.08,0.12,0.16], "format": ".2f", "title": "Yᴠꜱɢ", "labelOffset": 7.7}}, "y": {"field": "y", "type": "quantitative", "scale": {"domain": [0.066, 1.705], "nice": false, "zero": false}, "axis": {"values": [0.4,0.8,1.2,1.6], "labels": false, "title": null}}, "y2": {"field": "y2"}}},
    {"data": {"name": "D"}, "transform": [{"filter": "datum.pan === 'vn'"}], "mark": {"type": "rect", "color": "#000", "clip": true},
     "encoding": {"x": {"field": "x", "type": "quantitative", "scale": {"domain": [0.0009, 0.1643], "nice": false, "zero": false}, "axis": {"values": [0.04,0.08,0.12,0.16], "format": ".2f", "title": "Yᴠꜱɢ", "labelOffset": 7.7}}, "x2": {"field": "x2"}, "y": {"field": "y", "type": "quantitative", "scale": {"domain": [0.066, 1.705], "nice": false, "zero": false}, "axis": {"values": [0.4,0.8,1.2,1.6], "labels": false, "title": null}}, "y2": {"field": "y2"}, "opacity": {"field": "d", "type": "quantitative", "scale": {"domain": [0, 1], "range": [0, 1]}, "legend": null}}},
    {"data": {"name": "C"}, "transform": [{"filter": "datum.pan === 'vn'"}], "mark": {"type": "line", "color": "#000", "strokeWidth": 1.4, "clip": true},
     "encoding": {"x": {"field": "x", "type": "quantitative", "scale": {"domain": [0.0009, 0.1643], "nice": false, "zero": false}, "axis": {"values": [0.04,0.08,0.12,0.16], "format": ".2f", "title": "Yᴠꜱɢ", "labelOffset": 7.7}}, "y": {"field": "y", "type": "quantitative", "scale": {"domain": [0.066, 1.705], "nice": false, "zero": false}, "axis": {"values": [0.4,0.8,1.2,1.6], "labels": false, "title": null}}, "detail": {"field": "k", "type": "nominal"}, "order": {"field": "i", "type": "quantitative"}}}
  ]},
  {"width": 140.7, "height": 140.5, "layer": [
    {"data": {"name": "S"}, "mark": {"type": "circle", "size": 6, "color": "#000", "opacity": 0.2, "clip": true},
     "encoding": {"x": {"field": "b", "type": "quantitative", "scale": {"domain": [0.005, 0.364], "nice": false, "zero": false}, "axis": {"values": [0.08,0.16,0.24,0.32], "format": ".2f", "title": "Yʙɢ", "labelOffset": 7.7}},
                  "y": {"field": "n", "type": "quantitative", "scale": {"domain": [0.066, 1.705], "nice": false, "zero": false}, "axis": {"values": [0.4,0.8,1.2,1.6], "labels": false, "title": null}}}},
    {"data": {"name": "F"}, "transform": [{"filter": "datum.pan === 'bn'"}], "mark": {"type": "area", "color": "#fff", "opacity": 1, "clip": true, "orient": "vertical"},
     "encoding": {"x": {"field": "x", "type": "quantitative", "scale": {"domain": [0.005, 0.364], "nice": false, "zero": false}, "axis": {"values": [0.08,0.16,0.24,0.32], "format": ".2f", "title": "Yʙɢ", "labelOffset": 7.7}}, "y": {"field": "y", "type": "quantitative", "scale": {"domain": [0.066, 1.705], "nice": false, "zero": false}, "axis": {"values": [0.4,0.8,1.2,1.6], "labels": false, "title": null}}, "y2": {"field": "y2"}}},
    {"data": {"name": "D"}, "transform": [{"filter": "datum.pan === 'bn'"}], "mark": {"type": "rect", "color": "#000", "clip": true},
     "encoding": {"x": {"field": "x", "type": "quantitative", "scale": {"domain": [0.005, 0.364], "nice": false, "zero": false}, "axis": {"values": [0.08,0.16,0.24,0.32], "format": ".2f", "title": "Yʙɢ", "labelOffset": 7.7}}, "x2": {"field": "x2"}, "y": {"field": "y", "type": "quantitative", "scale": {"domain": [0.066, 1.705], "nice": false, "zero": false}, "axis": {"values": [0.4,0.8,1.2,1.6], "labels": false, "title": null}}, "y2": {"field": "y2"}, "opacity": {"field": "d", "type": "quantitative", "scale": {"domain": [0, 1], "range": [0, 1]}, "legend": null}}},
    {"data": {"name": "C"}, "transform": [{"filter": "datum.pan === 'bn'"}], "mark": {"type": "line", "color": "#000", "strokeWidth": 1.4, "clip": true},
     "encoding": {"x": {"field": "x", "type": "quantitative", "scale": {"domain": [0.005, 0.364], "nice": false, "zero": false}, "axis": {"values": [0.08,0.16,0.24,0.32], "format": ".2f", "title": "Yʙɢ", "labelOffset": 7.7}}, "y": {"field": "y", "type": "quantitative", "scale": {"domain": [0.066, 1.705], "nice": false, "zero": false}, "axis": {"values": [0.4,0.8,1.2,1.6], "labels": false, "title": null}}, "detail": {"field": "k", "type": "nominal"}, "order": {"field": "i", "type": "quantitative"}}}
  ]},
  {"width": 140.7, "height": 140.5, "data": {"name": "H"}, "transform": [{"filter": "datum.h === 'n'"}],
   "mark": {"type": "line", "interpolate": "step-after", "color": "#000", "strokeWidth": 1.4, "clip": true},
   "encoding": {"x": {"field": "e", "type": "quantitative", "scale": {"domain": [0.066, 1.705], "nice": false, "zero": false}, "axis": {"values": [0.4,0.8,1.2,1.6], "format": ".1f", "title": "NIR", "labelOffset": 5.5}},
                "y": {"field": "c", "type": "quantitative", "scale": {"domain": [0, 1596.1], "nice": false}, "axis": {"values": [250,500,750,1000,1250], "labels": false, "title": null}}}}
]
}
